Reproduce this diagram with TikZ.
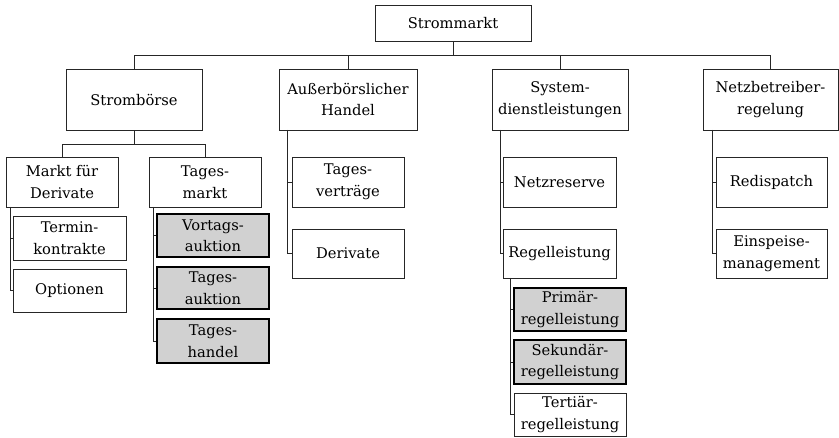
\documentclass[tikz,border=0pt]{standalone}
\usepackage{fontspec}
\setmainfont{DejaVu Serif}
\begin{document}
\begin{tikzpicture}[x=1pt,y=-1pt,
  box/.style={draw=black!85,line width=0.9pt,fill=white,inner sep=0pt,align=center,
    font=\fontsize{14.7}{21.5}\selectfont},
  hibox/.style={box,draw=black,line width=1.8pt,fill=gray!36},
  link/.style={draw=black!85,line width=0.9pt}]
\useasboundingbox (0,0) rectangle (839,438);
% root
\node[box,minimum width=156pt,minimum height=36pt] (top) at (453,23) {Strommarkt};
% first level
\node[box,minimum width=136pt,minimum height=61pt] (sb) at (134,99.5) {Strombörse};
\node[box,minimum width=138pt,minimum height=61pt] (ah) at (348,99.5) {Außerbörslicher\\Handel};
\node[box,minimum width=136pt,minimum height=61pt] (sd) at (560,99.5) {System-\\dienstleistungen};
\node[box,minimum width=135pt,minimum height=61pt] (nb) at (770.5,99.5) {Netzbetreiber-\\regelung};
% Strombörse branch
\node[box,minimum width=112pt,minimum height=50pt] (md) at (62,182) {Markt für\\Derivate};
\node[box,minimum width=112pt,minimum height=50pt] (tm) at (205,182) {Tages-\\markt};
\node[box,minimum width=113pt,minimum height=44pt] (tk) at (69.5,238) {Termin-\\kontrakte};
\node[box,minimum width=113pt,minimum height=43pt] (op) at (69.5,290.5) {Optionen};
\node[hibox,minimum width=112pt,minimum height=43pt] (va) at (213,235.5) {Vortags-\\auktion};
\node[hibox,minimum width=112pt,minimum height=42pt] (ta) at (213,288) {Tages-\\auktion};
\node[hibox,minimum width=112pt,minimum height=44pt] (th) at (213,341) {Tages-\\handel};
% Außerbörslicher Handel branch
\node[box,minimum width=112pt,minimum height=50pt] (tv) at (348,182) {Tages-\\verträge};
\node[box,minimum width=112pt,minimum height=49pt] (de) at (348,253.5) {Derivate};
% Systemdienstleistungen branch
\node[box,minimum width=113pt,minimum height=50pt] (nr) at (559.5,182) {Netzreserve};
\node[box,minimum width=113pt,minimum height=49pt] (rl) at (559.5,253.5) {Regelleistung};
\node[hibox,minimum width=112pt,minimum height=43pt] (pr) at (570,309.5) {Primär-\\regelleistung};
\node[hibox,minimum width=112pt,minimum height=44pt] (se) at (570,362) {Sekundär-\\regelleistung};
\node[box,minimum width=112pt,minimum height=43pt] (te) at (570,414.5) {Tertiär-\\regelleistung};
% Netzbetreiberregelung branch
\node[box,minimum width=111pt,minimum height=50pt] (rd) at (771.5,182) {Redispatch};
\node[box,minimum width=111pt,minimum height=49pt] (ei) at (771.5,253.5) {Einspeise-\\management};

% buses
\coordinate (bus0) at (0,55);
\coordinate (bus1) at (0,144);
\draw[link] (top.south) -- (top.south |- bus0);
\draw[link] (sb.north) -- (sb.north |- bus0) -| (nb.north);
\draw[link] (ah.north) -- (ah.north |- bus0);
\draw[link] (sd.north) -- (sd.north |- bus0);
\draw[link] (sb.south) -- (sb.south |- bus1);
\draw[link] (md.north) -- (md.north |- bus1) -| (tm.north);

% spines
\coordinate (mdsp) at (10,207);
\coordinate (tmsp) at (153,207);
\coordinate (ahsp) at (287,130);
\coordinate (sdsp) at (500,130);
\coordinate (rlsp) at (510,278);
\coordinate (nbsp) at (712,130);
\draw[link] (mdsp) |- (op.west);
\draw[link] (tk.west) -- (tk.west -| mdsp);
\draw[link] (tmsp) |- (th.west);
\draw[link] (va.west) -- (va.west -| tmsp);
\draw[link] (ta.west) -- (ta.west -| tmsp);
\draw[link] (ahsp) |- (de.west);
\draw[link] (tv.west) -- (tv.west -| ahsp);
\draw[link] (sdsp) |- (rl.west);
\draw[link] (nr.west) -- (nr.west -| sdsp);
\draw[link] (rlsp) |- (te.west);
\draw[link] (pr.west) -- (pr.west -| rlsp);
\draw[link] (se.west) -- (se.west -| rlsp);
\draw[link] (nbsp) |- (ei.west);
\draw[link] (rd.west) -- (rd.west -| nbsp);
\end{tikzpicture}
\end{document}
